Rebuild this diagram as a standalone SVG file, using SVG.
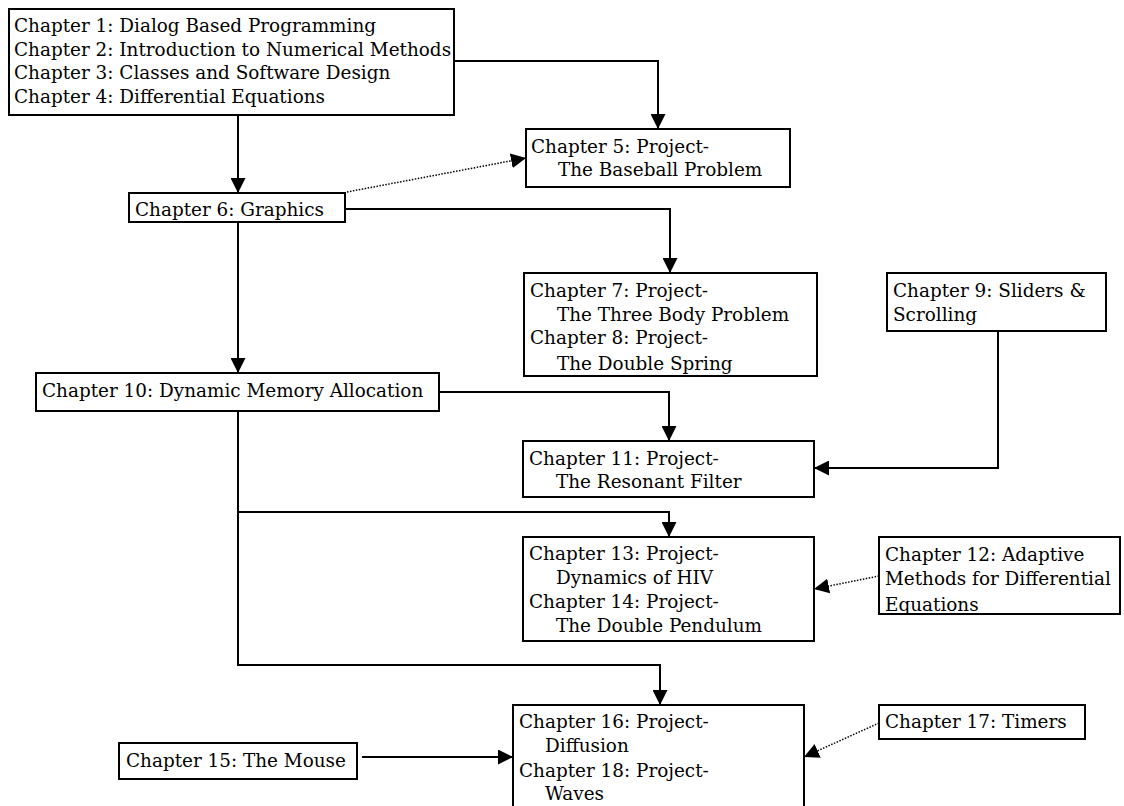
<svg xmlns="http://www.w3.org/2000/svg" width="1124" height="806" viewBox="0 0 1124 806">
<style>
.box{fill:#fff;stroke:#000;stroke-width:2}
text{font-family:"DejaVu Serif","Liberation Serif",serif;font-size:18.4px;fill:#000}
.ln{fill:none;stroke:#000;stroke-width:2}
.dot{fill:none;stroke:#000;stroke-width:1.5;stroke-dasharray:1.5 1.5}
</style>
<defs>
<marker id="ah" viewBox="0 0 15 15" refX="15" refY="7.5" markerWidth="15" markerHeight="15" markerUnits="userSpaceOnUse" orient="auto"><path d="M0,0 L15,7.5 L0,15 z" fill="#000"/></marker>
<clipPath id="c7"><rect x="524" y="273" width="293" height="101"/></clipPath>
<clipPath id="c12"><rect x="879" y="537" width="245" height="76"/></clipPath>
</defs>
<g id="connectors">
<path class="ln" d="M454,61 H658 V129" marker-end="url(#ah)"/>
<path class="ln" d="M238,115 V193" marker-end="url(#ah)"/>
<path class="dot" d="M347,192 L526,158" marker-end="url(#ah)"/>
<path class="ln" d="M345,209 H670 V273" marker-end="url(#ah)"/>
<path class="ln" d="M238,222 V373" marker-end="url(#ah)"/>
<path class="ln" d="M439,392 H669 V441" marker-end="url(#ah)"/>
<path class="ln" d="M998,331 V468 H814" marker-end="url(#ah)"/>
<path class="ln" d="M238,411 V665 H660 V705" marker-end="url(#ah)"/>
<path class="ln" d="M238,512 H669 V537" marker-end="url(#ah)"/>
<path class="dot" d="M879,576 L814,589" marker-end="url(#ah)"/>
<path class="ln" d="M362,757 H513" marker-end="url(#ah)"/>
<path class="dot" d="M879,723 L804,757" marker-end="url(#ah)"/>
</g>
<g id="ch1-4">
<rect class="box" x="9" y="9" width="445" height="106"/>
<text x="14" y="32">Chapter 1: Dialog Based Programming</text>
<text x="14" y="55.7">Chapter 2: Introduction to Numerical Methods</text>
<text x="14" y="79.4">Chapter 3: Classes and Software Design</text>
<text x="14" y="103">Chapter 4: Differential Equations</text>
</g>
<g id="ch5">
<rect class="box" x="526" y="129" width="264" height="58"/>
<text x="531" y="153">Chapter 5: Project-</text>
<text x="558" y="176">The Baseball Problem</text>
</g>
<g id="ch6">
<rect class="box" x="129" y="193" width="216" height="29"/>
<text x="135" y="216">Chapter 6: Graphics</text>
</g>
<g id="ch7-8">
<rect class="box" x="524" y="273" width="293" height="103"/>
<g clip-path="url(#c7)">
<text x="530" y="297">Chapter 7: Project-</text>
<text x="557" y="320.5">The Three Body Problem</text>
<text x="530" y="344">Chapter 8: Project-</text>
<text x="557" y="369.5">The Double Spring</text>
</g>
</g>
<g id="ch9">
<rect class="box" x="887" y="273" width="219" height="58"/>
<text x="893" y="297">Chapter 9: Sliders &amp;</text>
<text x="893" y="321">Scrolling</text>
</g>
<g id="ch10">
<rect class="box" x="36" y="373" width="403" height="38"/>
<text x="42" y="397">Chapter 10: Dynamic Memory Allocation</text>
</g>
<g id="ch11">
<rect class="box" x="523" y="441" width="291" height="56"/>
<text x="529" y="465">Chapter 11: Project-</text>
<text x="556" y="488">The Resonant Filter</text>
</g>
<g id="ch13-14">
<rect class="box" x="523" y="537" width="291" height="104"/>
<text x="529" y="560">Chapter 13: Project-</text>
<text x="556" y="584">Dynamics of HIV</text>
<text x="529" y="608">Chapter 14: Project-</text>
<text x="556" y="632">The Double Pendulum</text>
</g>
<g id="ch12">
<rect class="box" x="879" y="537" width="241" height="77"/>
<g clip-path="url(#c12)">
<text x="885" y="561">Chapter 12: Adaptive</text>
<text x="885" y="585">Methods for Differential</text>
<text x="885" y="610.5">Equations</text>
</g>
</g>
<g id="ch16-18">
<rect class="box" x="513" y="705" width="291" height="120"/>
<text x="519" y="728">Chapter 16: Project-</text>
<text x="545" y="752">Diffusion</text>
<text x="519" y="777">Chapter 18: Project-</text>
<text x="545" y="800">Waves</text>
</g>
<g id="ch15">
<rect class="box" x="119" y="743" width="238" height="36"/>
<text x="126" y="767">Chapter 15: The Mouse</text>
</g>
<g id="ch17">
<rect class="box" x="879" y="705" width="206" height="34"/>
<text x="885" y="728">Chapter 17: Timers</text>
</g>
</svg>
